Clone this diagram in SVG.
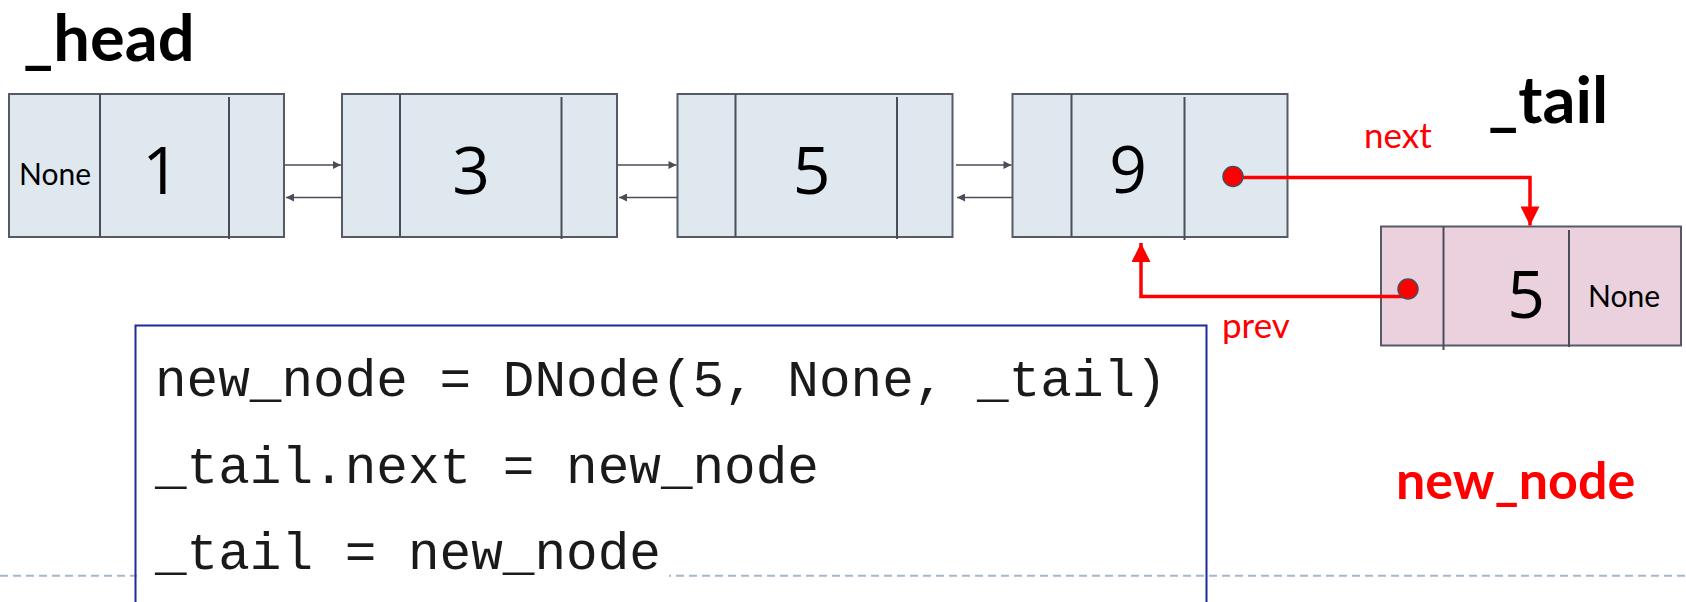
<svg xmlns="http://www.w3.org/2000/svg" width="1686" height="602" viewBox="0 0 1686 602">
<defs>
<marker id="ga" viewBox="0 0 10 10" refX="10" refY="5" markerWidth="10" markerHeight="8" markerUnits="userSpaceOnUse" orient="auto"><path d="M0,0 L10,5 L0,10 z" fill="#4a4d59"/></marker>
<marker id="ra" viewBox="0 0 10 10" refX="10" refY="5" markerWidth="24" markerHeight="19" markerUnits="userSpaceOnUse" orient="auto"><path d="M0,0 L10,5 L0,10 z" fill="#ff0000"/></marker>
</defs>
<style>
.nd{fill:#dfe8ee;stroke:#555a66;stroke-width:2}
.nn{fill:#ebd1de;stroke:#555a66;stroke-width:2}
.dv{stroke:#4a4d59;stroke-width:2}
.num{font-family:"Open Sans",sans-serif;font-size:66px;fill:#000;text-anchor:middle}
.none{font-family:Lato,sans-serif;font-size:30px;fill:#000;text-anchor:middle}
.big{font-family:Lato,sans-serif;font-weight:bold;font-size:65px;fill:#000}
.lbl{font-family:Lato,sans-serif;font-size:35px;fill:#ff0000}
.code{font-family:"Liberation Mono",monospace;font-size:52.7px;fill:#1a1a1a}
.g{stroke:#4a4d59;stroke-width:1.6;fill:none}
.r{stroke:#ff0000;stroke-width:3.5;fill:none}
.dot{fill:#ff0000;stroke:#4a4d59;stroke-width:1.5}
</style>
<rect width="1686" height="602" fill="#ffffff"/>
<line x1="0" y1="575.7" x2="1686" y2="575.7" stroke="#a4b8cd" stroke-width="2" stroke-dasharray="8 5"/>
<text class="big" x="23" y="61">_head</text>
<text class="big" x="1488" y="123">_tail</text>
<g id="node1">
<rect class="nd" x="9" y="94" width="275" height="143"/>
<line class="dv" x1="100" y1="94" x2="100" y2="237"/>
<line class="dv" x1="229" y1="97" x2="229" y2="239"/>
<text class="none" x="55" y="185">None</text>
<text class="num" x="161" y="194">1</text>
</g>
<g id="node2">
<rect class="nd" x="342" y="94" width="275" height="143"/>
<line class="dv" x1="400" y1="94" x2="400" y2="237"/>
<line class="dv" x1="561.5" y1="97" x2="561.5" y2="239"/>
<text class="num" x="471" y="194">3</text>
</g>
<g id="node3">
<rect class="nd" x="677.5" y="94" width="275" height="143"/>
<line class="dv" x1="735.5" y1="94" x2="735.5" y2="237"/>
<line class="dv" x1="897" y1="97" x2="897" y2="239"/>
<text class="num" x="811.5" y="194">5</text>
</g>
<g id="node4">
<rect class="nd" x="1012.5" y="94" width="275" height="143"/>
<line class="dv" x1="1071.5" y1="94" x2="1071.5" y2="237"/>
<line class="dv" x1="1184.5" y1="97" x2="1184.5" y2="240"/>
<text class="num" x="1128" y="193">9</text>
</g>
<g id="new_node">
<rect class="nn" x="1381" y="226.5" width="300" height="119"/>
<line class="dv" x1="1443.5" y1="226.5" x2="1443.5" y2="350"/>
<line class="dv" x1="1569" y1="230" x2="1569" y2="347"/>
<text class="num" x="1526" y="318">5</text>
<text class="none" x="1624" y="306.5">None</text>
</g>
<g id="connectors">
<line class="g" x1="285" y1="165" x2="341" y2="165" marker-end="url(#ga)"/>
<line class="g" x1="342" y1="197.5" x2="286" y2="197.5" marker-end="url(#ga)"/>
<line class="g" x1="618" y1="165" x2="676.5" y2="165" marker-end="url(#ga)"/>
<line class="g" x1="677.5" y1="197.5" x2="619" y2="197.5" marker-end="url(#ga)"/>
<line class="g" x1="956" y1="165" x2="1011.5" y2="165" marker-end="url(#ga)"/>
<line class="g" x1="1012.5" y1="197.5" x2="957" y2="197.5" marker-end="url(#ga)"/>
<path class="r" d="M1233,177.5 H1530 V225.5" marker-end="url(#ra)"/>
<path class="r" d="M1408,296.5 H1141 V243" marker-end="url(#ra)"/>
<circle class="dot" cx="1233" cy="176.5" r="10"/>
<circle class="dot" cx="1408" cy="289" r="10"/>
<text class="lbl" x="1364" y="148">next</text>
<text class="lbl" x="1222" y="338">prev</text>
</g>
<g id="code">
<rect x="135.5" y="325.5" width="1071" height="290" fill="none" stroke="#1f2a96" stroke-width="2"/>
<rect x="137" y="571" width="532" height="10" fill="#ffffff"/>
<text class="code" x="155" y="396" xml:space="preserve">new_node = DNode(5, None, _tail)</text>
<text class="code" x="155" y="482.5">_tail.next = new_node</text>
<text class="code" x="155" y="569">_tail = new_node</text>
</g>
<text x="1396" y="499" font-family="Lato, sans-serif" font-weight="bold" font-size="52" fill="#ff0000">new_node</text>
</svg>
